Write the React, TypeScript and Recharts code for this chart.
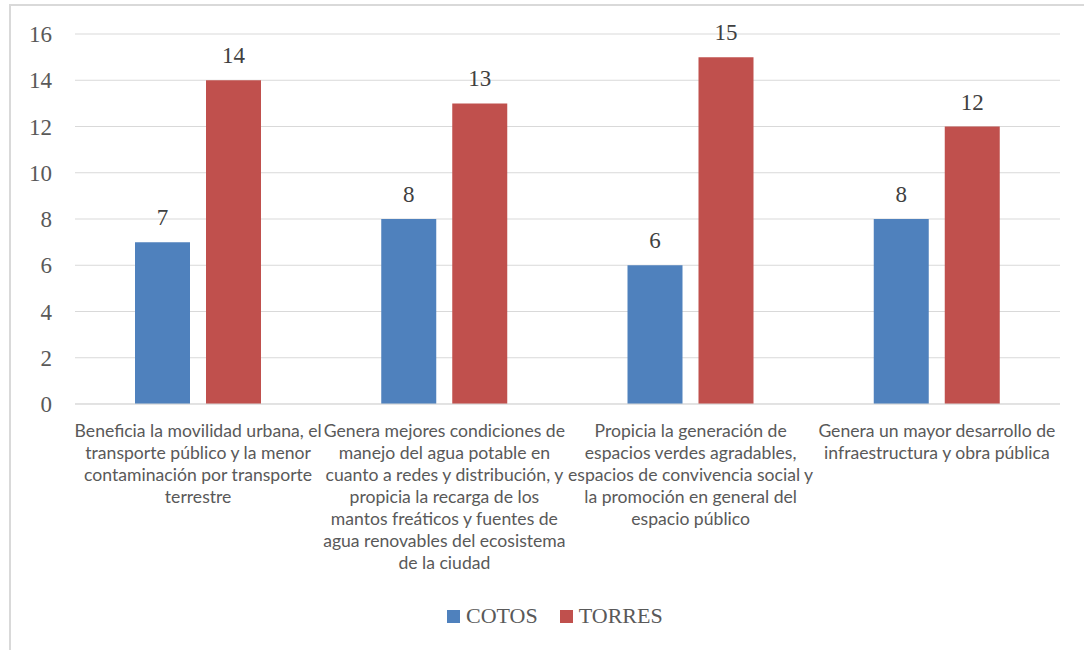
import React from 'react';
import { BarChart, Bar, XAxis, YAxis, CartesianGrid, Legend, LabelList } from 'recharts';

// category names, with the line breaks used under the axis
const categories = [
  'Beneficia la movilidad urbana, el\ntransporte público y la menor\ncontaminación por transporte\nterrestre',
  'Genera mejores condiciones de\nmanejo del agua potable en\ncuanto a redes y distribución, y\npropicia la recarga de los\nmantos freáticos y fuentes de\nagua renovables del ecosistema\nde la ciudad',
  'Propicia la generación de\nespacios verdes agradables,\nespacios de convivencia social y\nla promoción en general del\nespacio público',
  'Genera un mayor desarrollo de\ninfraestructura y obra pública',
];
const cotos = [7, 8, 6, 8];
const torres = [14, 13, 15, 12];
const yTicks = [0, 2, 4, 6, 8, 10, 12, 14, 16];

const data = categories.map((name, i) => ({ name, COTOS: cotos[i], TORRES: torres[i] }));

const serif = '"Liberation Serif", "DejaVu Serif", serif';

const CategoryTick = ({ x, y, payload }: any) => {
  const lines = String(payload.value).split('\n');
  return (
    <text
      x={x}
      y={y}
      textAnchor="middle"
      fill="#595959"
      style={{ fontFamily: 'Lato, sans-serif', fontSize: 17.6 }}
    >
      {lines.map((line, i) => (
        <tspan key={i} x={x} dy={i === 0 ? 14 : 22}>
          {line}
        </tspan>
      ))}
    </text>
  );
};

const LegendContent = ({ payload }: any) => (
  <div style={{ display: 'flex', alignItems: 'center' }}>
    {(payload || []).map((item: any, i: number) => (
      <div key={item.value} style={{ display: 'flex', alignItems: 'center', marginLeft: i ? 22 : 0 }}>
        <span style={{ width: 13, height: 13, background: item.color, display: 'inline-block' }} />
        <span style={{ marginLeft: 6, fontFamily: serif, fontSize: 22, color: '#595959' }}>{item.value}</span>
      </div>
    ))}
  </div>
);

const labelStyle = { fontFamily: serif, fontSize: 23, fill: '#404040' };

export default function App() {
  return (
    <div style={{ position: 'absolute', left: 0, top: 0, width: 1084, height: 650, background: '#fff' }}>
      <div
        style={{
          position: 'absolute',
          left: 9,
          top: 4,
          right: 0,
          bottom: 0,
          borderTop: '2px solid #d9d9d9',
          borderLeft: '2px solid #d9d9d9',
        }}
      />
      <BarChart
        width={1084}
        height={650}
        data={data}
        margin={{ top: 34, right: 24, bottom: 20, left: 0 }}
        barSize={55}
        barGap={16}
      >
        <CartesianGrid vertical={false} stroke="#d9d9d9" strokeWidth={1} />
        <XAxis
          dataKey="name"
          interval={0}
          height={200}
          tickLine={false}
          tickSize={0}
          tickMargin={19}
          axisLine={{ stroke: '#d9d9d9' }}
          tick={<CategoryTick />}
        />
        <YAxis
          width={75}
          domain={[0, 16]}
          ticks={yTicks}
          axisLine={false}
          tickLine={false}
          tickSize={0}
          tickMargin={23}
          tick={{ fontFamily: serif, fontSize: 23, fill: '#595959' }}
        />
        <Legend
          content={<LegendContent />}
          wrapperStyle={{ left: 447, top: 603, width: 'auto' }}
        />
        <Bar dataKey="COTOS" fill="#4f81bd" isAnimationActive={false}>
          <LabelList dataKey="COTOS" position="top" offset={17} style={labelStyle} />
        </Bar>
        <Bar dataKey="TORRES" fill="#c0504d" isAnimationActive={false}>
          <LabelList dataKey="TORRES" position="top" offset={17} style={labelStyle} />
        </Bar>
      </BarChart>
    </div>
  );
}
